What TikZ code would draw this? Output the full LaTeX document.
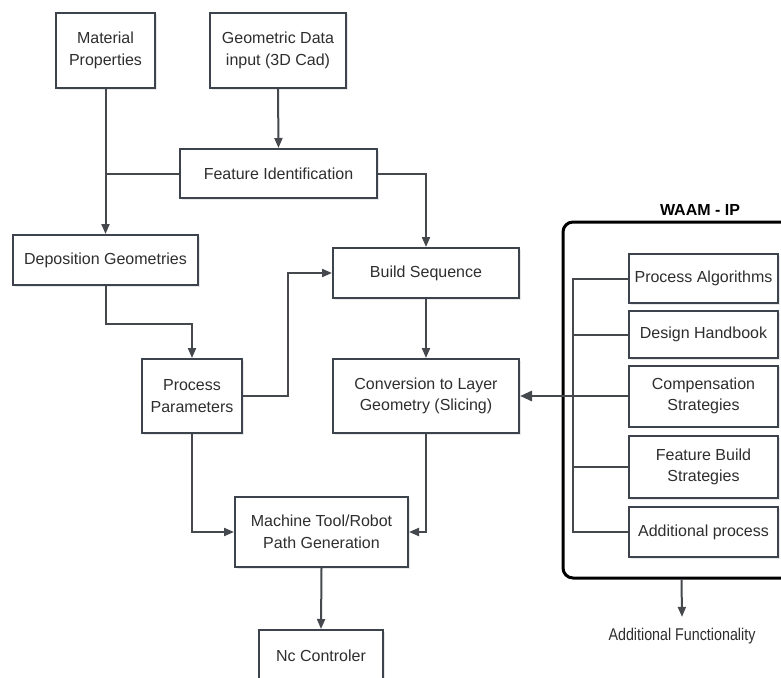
\documentclass[tikz,border=0pt]{standalone}
\usepackage{fontspec}
\setmainfont{Liberation Sans}
\newfontfamily\narrowfont[FakeStretch=0.84]{Liberation Sans}
\usepackage{tikz}
\usetikzlibrary{arrows.meta, shadows}

\definecolor{boxline}{HTML}{3D434C}
\definecolor{conline}{HTML}{45484D}
\definecolor{txtgray}{HTML}{2E2E2E}

\newcommand{\boxfont}{\fontsize{16}{21.5}\selectfont}

\tikzset{
    blk/.style={draw=boxline, line width=2pt, fill=white, align=center,
        text=txtgray, font=\boxfont, inner sep=2pt,
        drop shadow={opacity=0.18, shadow xshift=1.5pt, shadow yshift=-1.5pt}},
    ln/.style={draw=conline, line width=2pt},
    arr/.style={ln, -{Triangle[length=10pt, width=8pt]}},
}

\begin{document}
\begin{tikzpicture}[x=1pt, y=-1pt]
    \useasboundingbox (0,0) rectangle (781,677);

    % left hand flow
    \node[blk, minimum width=99pt, minimum height=75pt] (mat) at (105.5, 50.5) {Material\\Properties};
    \node[blk, minimum width=136pt, minimum height=75pt] (geo) at (278, 50.5) {Geometric Data\\input (3D Cad)};
    \node[blk, minimum width=197pt, minimum height=49pt] (feat) at (278.5, 173.5) {Feature Identification};
    \node[blk, minimum width=185pt, minimum height=50pt] (dep) at (105.5, 260) {Deposition Geometries};
    \node[blk, minimum width=186pt, minimum height=50pt] (build) at (426, 273) {Build Sequence};
    \node[blk, minimum width=100pt, minimum height=74pt] (proc) at (192, 396) {Process\\Parameters};
    \node[blk, minimum width=186pt, minimum height=74pt] (conv) at (426, 396) {Conversion to Layer\\Geometry (Slicing)};
    \node[blk, minimum width=173pt, minimum height=70pt] (mach) at (321.5, 532) {Machine Tool/Robot\\Path Generation};
    \node[blk, minimum width=124pt, minimum height=52pt] (nc) at (321, 656) {Nc Controler};

    \draw[arr] (mat.south) -- (dep.north);
    \draw[ln] (feat.west) -- (feat.west -| mat.south);
    \draw[arr] (geo.south) -- (feat.north);
    \draw[arr] (feat.east) -| (build.north);
    \draw[arr] (dep.south) -- ++(0,38) -| (proc.north);
    \draw[arr] (proc.east) -- ++(45,0) |- (build.west);
    \draw[arr] (build.south) -- (conv.north);
    \draw[arr] (proc.south) |- (mach.west);
    \draw[arr] (conv.south) |- (mach.east);
    \draw[arr] (mach.south) -- (nc.north);

    % WAAM - IP panel
    \node[font=\bfseries\fontsize{16}{19}\selectfont, text=black] (waam) at (700, 210) {WAAM - IP};
    \node[draw=black, line width=3pt, rounded corners=10pt, minimum width=237pt, minimum height=356pt] (panel) at (681.5, 400) {};

    \node[blk, minimum width=149pt, minimum height=49pt] (pa) at (703.5, 278.5) {Process Algorithms};
    \node[blk, minimum width=149pt, minimum height=47pt] (dh) at (703.5, 334.5) {Design Handbook};
    \node[blk, minimum width=149pt, minimum height=61pt] (cs) at (703.5, 396) {Compensation\\Strategies};
    \node[blk, minimum width=149pt, minimum height=62pt] (fb) at (703.5, 467) {Feature Build\\Strategies};
    \node[blk, minimum width=149pt, minimum height=50pt] (ap) at (703.5, 532) {Additional process};

    \draw[ln] (pa.west) -- ++(-55,0) |- (ap.west);
    \foreach \b in {dh, fb}
        \draw[ln] (\b.west) -- ++(-55,0);
    \draw[ln, line width=2.8pt, -{Triangle[length=12pt, width=10pt]}] (cs.west) -- (conv.east);

    \node[font=\narrowfont\fontsize{17}{20}\selectfont, text=txtgray, inner ysep=11pt] (addf) at (682, 636) {Additional Functionality};
    \draw[arr] (panel.south) -- (addf.north);
\end{tikzpicture}
\end{document}
